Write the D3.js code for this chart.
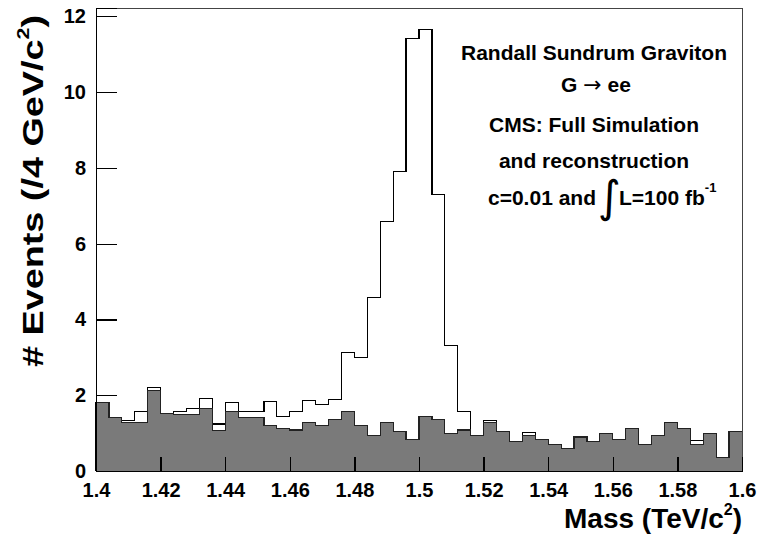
<!DOCTYPE html>
<html>
<head>
<meta charset="utf-8">
<script src="https://cdn.jsdelivr.net/npm/d3@7"></script>
<style>
  body { margin: 0; background: #fff; }
  svg text { font-family: "Liberation Sans", Arial, Helvetica, sans-serif; font-weight: bold; fill: #000; }
</style>
</head>
<body>
<div id="chart"></div>
<script>
// histogram: 50 bins of 4 GeV between 1.4 and 1.6 TeV
const massMin = 1.4
const massMax = 1.6
const binWidth = 0.004

// signal + background (outline), events per bin
const total = [
  1.80, 1.41, 1.34, 1.56, 2.20, 1.51, 1.58, 1.64, 1.92, 1.24,
  1.81, 1.56, 1.56, 1.83, 1.43, 1.56, 1.86, 1.75, 1.88, 3.12,
  3.00, 4.57, 6.59, 7.90, 11.41, 11.65, 7.30, 3.31, 1.56, 0.93,
  1.34, 1.05, 0.77, 1.02, 0.84, 0.70, 0.60, 0.90, 0.77, 0.98,
  0.83, 1.13, 0.70, 0.93, 1.27, 1.13, 0.81, 0.98, 0.35, 1.05
]

// background only (filled grey)
const background = [
  1.80, 1.41, 1.27, 1.29, 2.12, 1.51, 1.49, 1.49, 1.66, 1.07,
  1.58, 1.41, 1.41, 1.21, 1.13, 1.08, 1.29, 1.21, 1.35, 1.58,
  1.21, 0.93, 1.27, 1.05, 0.83, 1.43, 1.35, 0.99, 1.08, 0.93,
  1.29, 1.05, 0.77, 0.93, 0.84, 0.70, 0.60, 0.90, 0.77, 0.98,
  0.83, 1.13, 0.70, 0.93, 1.27, 1.13, 0.70, 0.98, 0.35, 1.05
]

const xTicks = [1.4, 1.42, 1.44, 1.46, 1.48, 1.5, 1.52, 1.54, 1.56, 1.58, 1.6]
const yTicks = [0, 2, 4, 6, 8, 10, 12]
const yMax = 12.22

const W = 760, H = 539
const margin = { top: 8, right: 18, bottom: 68, left: 96 }
const w = W - margin.left - margin.right
const h = H - margin.top - margin.bottom

const svg = d3.select('#chart').append('svg').attr('width', W).attr('height', H)
const g = svg.append('g').attr('transform', `translate(${margin.left},${margin.top})`)

const x = d3.scaleLinear().domain([massMin, massMax]).range([0, w])
const y = d3.scaleLinear().domain([0, yMax]).range([h, 0])

const toSteps = vals => {
  const pts = vals.map((v, i) => [massMin + i * binWidth, v])
  pts.push([massMax, vals[vals.length - 1]])
  return pts
}

// total outline (white underneath)
const line = d3.line().x(d => x(d[0])).y(d => y(d[1])).curve(d3.curveStepAfter)
g.append('path')
  .datum([[massMin, 0], ...toSteps(total), [massMax, 0]])
  .attr('fill', '#fff')
  .attr('stroke', '#000')
  .attr('stroke-width', 1.2)
  .attr('shape-rendering', 'crispEdges')
  .attr('d', line)

// background fill
const area = d3.area().x(d => x(d[0])).y0(h).y1(d => y(d[1])).curve(d3.curveStepAfter)
g.append('path')
  .datum(toSteps(background))
  .attr('fill', '#7a7a7a')
  .attr('stroke', 'none')
  .attr('d', area)
g.append('path')
  .datum(toSteps(background))
  .attr('fill', 'none')
  .attr('stroke', '#222')
  .attr('stroke-width', 1.2)
  .attr('shape-rendering', 'crispEdges')
  .attr('d', line)

// frame
g.append('rect')
  .attr('x', 0).attr('y', 0).attr('width', w).attr('height', h)
  .attr('fill', 'none').attr('stroke', '#444').attr('stroke-width', 1)
  .attr('shape-rendering', 'crispEdges')

// x axis: major ticks every 0.02, minor every 0.004, pointing up
const xMinor = d3.range(0, 51).map(i => massMin + i * binWidth)
const xAxis = g.append('g').attr('transform', `translate(0,${h})`)
xAxis.call(d3.axisBottom(x).tickValues(xMinor).tickSize(-7).tickFormat(''))
xAxis.call(d3.axisBottom(x).tickValues(xTicks).tickSize(-14).tickPadding(24)
  .tickFormat(d => String(+d.toFixed(2))))
xAxis.selectAll('.domain').attr('stroke', '#000').attr('stroke-width', 1.5)
xAxis.selectAll('line').attr('stroke', '#000').attr('stroke-width', 1.3)
xAxis.selectAll('text').attr('font-size', 20).attr('dy', '0.1em')

// y axis: major every 2, minor every 0.5, pointing right
const yMinor = d3.range(0, 25).map(i => i * 0.5)
const yAxis = g.append('g')
yAxis.call(d3.axisLeft(y).tickValues(yMinor).tickSize(-11).tickFormat(''))
yAxis.call(d3.axisLeft(y).tickValues(yTicks).tickSize(-21).tickPadding(-12))
yAxis.selectAll('.domain').attr('stroke', '#000').attr('stroke-width', 1.5)
yAxis.selectAll('line').attr('stroke', '#000').attr('stroke-width', 1.3)
yAxis.selectAll('text').attr('font-size', 20).attr('x', -10).attr('text-anchor', 'end')

svg.selectAll('.domain, .tick line').attr('shape-rendering', 'crispEdges')

// axis titles
const xTitle = svg.append('text')
  .attr('x', 742).attr('y', 528).attr('text-anchor', 'end').attr('font-size', 28)
xTitle.append('tspan').text('Mass (TeV/c')
xTitle.append('tspan').attr('font-size', 16).attr('dy', -13).text('2')
xTitle.append('tspan').attr('dy', 13).text(')')

const yTitle = svg.append('text')
  .attr('transform', 'translate(43,15) rotate(-90)')
  .attr('text-anchor', 'end').attr('font-size', 30)
  .attr('textLength', 352).attr('lengthAdjust', 'spacingAndGlyphs')
yTitle.append('tspan').text('# Events (/4 GeV/c')
yTitle.append('tspan').attr('font-size', 17).attr('dy', -14).text('2')
yTitle.append('tspan').attr('dy', 14).text(')')

// annotation
const notes = [
  { text: 'Randall Sundrum Graviton', y: 60 },
  { text: 'CMS: Full Simulation', y: 132 },
  { text: 'and reconstruction', y: 168 }
]
notes.forEach(n => {
  svg.append('text').attr('x', 594).attr('y', n.y)
    .attr('text-anchor', 'middle').attr('font-size', 21).text(n.text)
})
const decay = svg.append('text').attr('x', 596).attr('y', 92)
  .attr('text-anchor', 'middle').attr('font-size', 21)
decay.append('tspan').text('G ')
decay.append('tspan').style('font-family', '"DejaVu Sans", sans-serif')
  .style('font-weight', 'normal').attr('font-size', 22).text('\u2192')
decay.append('tspan').text(' ee')

svg.append('text').attr('x', 488).attr('y', 205).attr('font-size', 21).text('c=0.01 and')
svg.append('text').attr('x', 598).attr('y', 212).attr('font-size', 44)
  .style('font-family', '"DejaVu Sans", sans-serif').style('font-weight', 'normal').text('\u222B')
const lumi = svg.append('text').attr('x', 619).attr('y', 205).attr('font-size', 21)
lumi.append('tspan').text('L=100 fb')
lumi.append('tspan').attr('font-size', 13).attr('dy', -13).text('-1')
</script>
</body>
</html>
